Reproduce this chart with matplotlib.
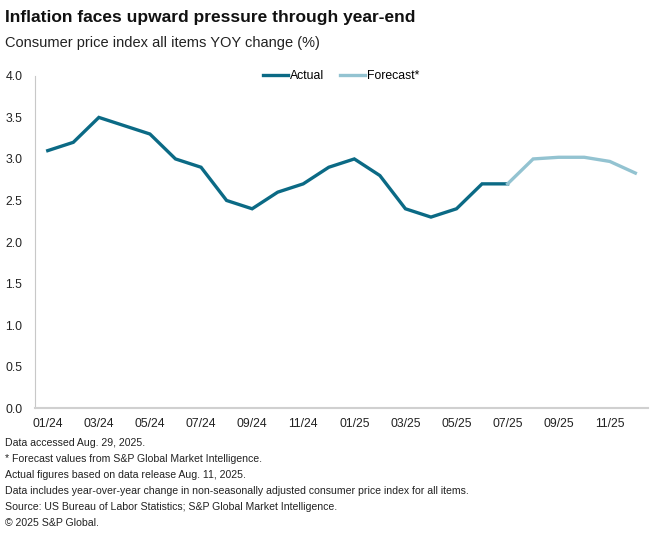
import numpy as np
import matplotlib
matplotlib.use('Agg')
import matplotlib.pyplot as plt

plt.rcParams['font.family'] = ['Liberation Sans', 'DejaVu Sans']

months = ['01/24', '02/24', '03/24', '04/24', '05/24', '06/24', '07/24', '08/24',
          '09/24', '10/24', '11/24', '12/24', '01/25', '02/25', '03/25', '04/25',
          '05/25', '06/25', '07/25', '08/25', '09/25', '10/25', '11/25', '12/25']
actual = [3.1, 3.2, 3.5, 3.4, 3.3, 3.0, 2.9, 2.5, 2.4, 2.6, 2.7, 2.9,
          3.0, 2.8, 2.4, 2.3, 2.4, 2.7, 2.7]
forecast = [2.7, 3.0, 3.02, 3.02, 2.97, 2.83]  # starts at 07/25

notes = ['Data accessed Aug. 29, 2025.',
         '* Forecast values from S&P Global Market Intelligence.',
         'Actual figures based on data release Aug. 11, 2025.',
         'Data includes year-over-year change in non-seasonally adjusted consumer price index for all items.',
         'Source: US Bureau of Labor Statistics; S&P Global Market Intelligence.',
         '\u00a9 2025 S&P Global.']

x = np.arange(len(months))
x_act = x[:len(actual)]
x_fc = x[len(actual) - 1:]

fig = plt.figure(figsize=(6.6, 5.42), dpi=100)
ax = fig.add_axes([0.053, 0.247, 0.929, 0.613])

ax.plot(x_act, actual, color='#0B6A85', lw=2.4, label='Actual', solid_joinstyle='miter')
ax.plot(x_fc, forecast, color='#93C3D1', lw=2.4, label='Forecast*', solid_joinstyle='miter')

ax.set_xlim(-0.5, len(months) - 0.5)
ax.set_ylim(0, 4)
ax.set_yticks(np.arange(0, 4.01, 0.5))
ax.set_yticklabels(['{:.1f}'.format(v) for v in np.arange(0, 4.01, 0.5)])
ax.set_xticks(x[::2])
ax.set_xticklabels(months[::2])
ax.tick_params(axis='both', length=0, labelsize=8.8, colors='#222222')
ax.tick_params(axis='x', pad=7)
ax.tick_params(axis='y', pad=9)

for s in ['top', 'right']:
    ax.spines[s].set_visible(False)
ax.spines['left'].set_color('#C8C8C8')
ax.spines['bottom'].set_color('#D0D0D0')
ax.spines['bottom'].set_linewidth(1.5)

ax.legend(loc='upper center', bbox_to_anchor=(0.5, 1.05), ncol=2, frameon=False,
          fontsize=8.8, handlelength=2.0, handletextpad=0.2, columnspacing=1.3)

fig.text(0.008, 0.967, 'Inflation faces upward pressure through year-end',
         fontsize=12.5, fontweight='bold', color='#111111', va='center')
fig.text(0.008, 0.920, 'Consumer price index all items YOY change (%)',
         fontsize=10.5, color='#222222', va='center')

y0 = 0.182
for i, line in enumerate(notes):
    fig.text(0.008, y0 - i * 0.0295, line, fontsize=7.6, color='#222222', va='center')

fig.savefig('out.png', dpi=100)
